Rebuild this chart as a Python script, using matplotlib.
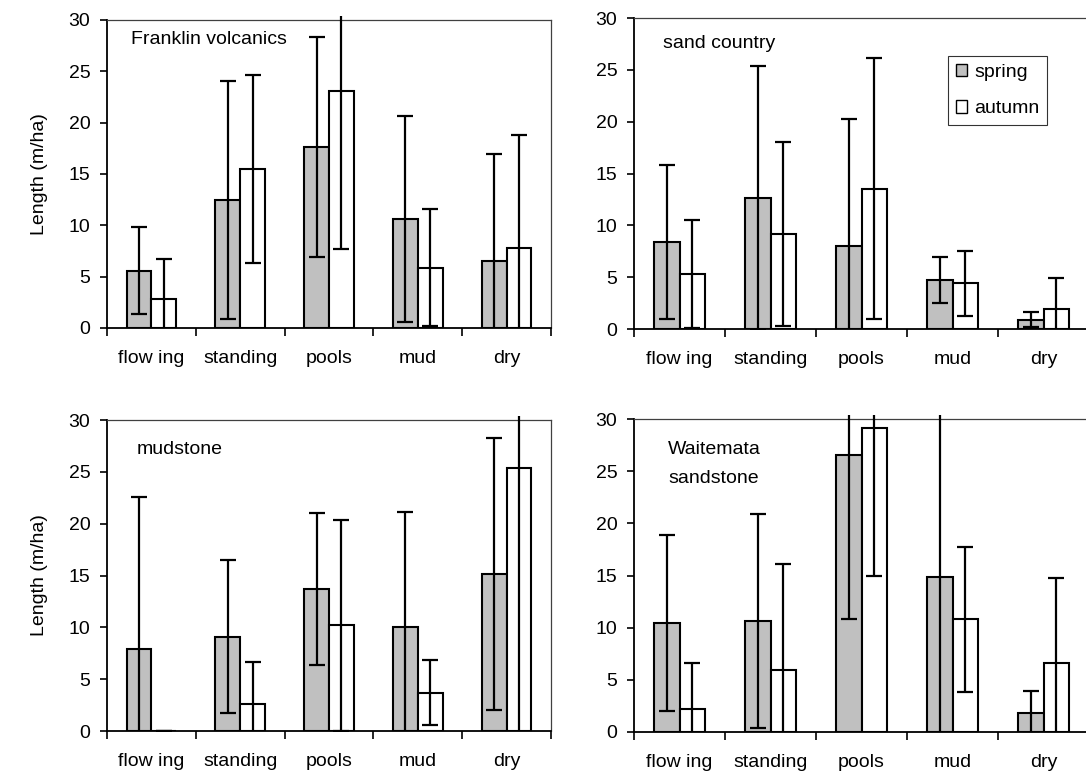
import matplotlib
matplotlib.use("Agg")
import matplotlib.pyplot as plt
from matplotlib.patches import Patch
from matplotlib.transforms import Bbox, TransformedBbox

plt.rcParams['font.family'] = ['Liberation Sans', 'DejaVu Sans']

categories = ["flow ing", "standing", "pools", "mud", "dry"]
series_names = ["spring", "autumn"]

fv_spring = [5.6, 12.5, 17.6, 10.6, 6.5]
fv_spring_err = [4.2, 11.6, 10.7, 10.05, 10.4]
fv_autumn = [2.8, 15.45, 23.1, 5.85, 7.8]
fv_autumn_err = [3.9, 9.15, 15.45, 5.7, 11.0]

sc_spring = [8.4, 12.65, 8.05, 4.75, 0.9]
sc_spring_err = [7.45, 12.7, 12.2, 2.2, 0.7]
sc_autumn = [5.3, 9.15, 13.55, 4.4, 1.95]
sc_autumn_err = [5.2, 8.9, 12.6, 3.1, 3.0]

ms_spring = [7.95, 9.1, 13.7, 10.0, 15.15]
ms_spring_err = [14.6, 7.4, 7.3, 11.1, 13.1]
ms_autumn = [0.0, 2.6, 10.2, 3.7, 25.4]
ms_autumn_err = [0.0, 4.05, 10.2, 3.15, 26.0]

ws_spring = [10.45, 10.65, 26.55, 14.85, 1.85]
ws_spring_err = [8.4, 10.25, 15.75, 17.0, 2.05]
ws_autumn = [2.25, 5.9, 29.1, 10.8, 6.65]
ws_autumn_err = [4.35, 10.2, 14.1, 6.95, 8.15]

panel_titles = ["Franklin volcanics", "sand country", "mudstone", "Waitemata\nsandstone"]
y_ticks = [0, 5, 10, 15, 20, 25, 30]

W, H = 1086, 773
fig = plt.figure(figsize=(W / 100, H / 100), dpi=100)
FS = 14


def rect(x0, y0, x1, y1):
    return [x0 / W, 1 - y1 / H, (x1 - x0) / W, (y1 - y0) / H]


panels = [
    (rect(107, 20, 551, 328), fv_spring, fv_spring_err, fv_autumn, fv_autumn_err, True),
    (rect(634, 18, 1089, 329), sc_spring, sc_spring_err, sc_autumn, sc_autumn_err, False),
    (rect(107, 420, 551, 731), ms_spring, ms_spring_err, ms_autumn, ms_autumn_err, True),
    (rect(634, 419, 1089, 732), ws_spring, ws_spring_err, ws_autumn, ws_autumn_err, False),
]

spring_color = "#C0C0C0"
bw = 0.28
xs = list(range(len(categories)))

axes = []
for pos, sp, spe, au, aue, show_ylabel in panels:
    ax = fig.add_axes(pos)
    axes.append(ax)
    xsp = [x - bw / 2 for x in xs]
    xau = [x + bw / 2 for x in xs]
    ax.bar(xsp, sp, width=bw, color=spring_color, edgecolor="black", linewidth=1.5, zorder=2)
    ax.bar(xau, au, width=bw, color="white", edgecolor="black", linewidth=1.5, zorder=2)
    clipbox = TransformedBbox(Bbox([[0, 0], [1, 1.014]]), ax.transAxes)
    for xx, vv, ee in ((xsp, sp, spe), (xau, au, aue)):
        cont = ax.errorbar(xx, vv, yerr=ee, fmt="none", ecolor="black", elinewidth=1.6,
                           capsize=5.5, capthick=1.6, zorder=3)
        for art in cont.lines[1] + cont.lines[2]:
            art.set_clip_on(True)
            art.set_clip_box(clipbox)
    ax.set_xlim(-0.5, len(categories) - 0.5)
    ax.set_ylim(0, 30)
    ax.set_yticks(y_ticks)
    ax.set_yticklabels([str(t) for t in y_ticks])
    ax.set_xticks([x - 0.5 for x in xs] + [len(categories) - 0.5])
    ax.set_xticklabels([])
    ax.set_xticks(xs, minor=True)
    ax.set_xticklabels(categories, minor=True)
    ax.tick_params(axis="x", which="major", direction="out", length=6, width=1.2, color="black")
    ax.tick_params(axis="x", which="minor", length=0, pad=16, labelsize=FS)
    ax.tick_params(axis="y", direction="out", length=5, width=1.2, pad=7, labelsize=FS)
    for s in ("left", "bottom"):
        ax.spines[s].set_color("black")
        ax.spines[s].set_linewidth(1.3)
    for s in ("top", "right"):
        ax.spines[s].set_color("#404040")
        ax.spines[s].set_linewidth(0.9)
    if show_ylabel:
        ax.set_ylabel("Length (m/ha)", fontsize=FS)
        ax.yaxis.set_label_coords(-0.133, 0.5)

# panel titles
fig.text(131 / W, 1 - 40 / H, panel_titles[0], fontsize=FS, ha="left", va="center")
fig.text(663 / W, 1 - 43 / H, panel_titles[1], fontsize=FS, ha="left", va="center")
fig.text(137 / W, 1 - 449 / H, panel_titles[2], fontsize=FS, ha="left", va="center")
fig.text(714 / W, 1 - 464 / H, panel_titles[3], fontsize=FS, ha="center", va="center",
         multialignment="center", linespacing=1.95)

handles = [Patch(facecolor=spring_color, edgecolor="black", linewidth=1.0),
           Patch(facecolor="white", edgecolor="black", linewidth=1.0)]
leg = fig.legend(handles, series_names, loc="upper left",
                 bbox_to_anchor=(948 / W, 1 - 56 / H), bbox_transform=fig.transFigure,
                 fontsize=FS, frameon=True, fancybox=False, borderaxespad=0,
                 handlelength=0.6, handleheight=0.6, handletextpad=0.35,
                 labelspacing=1.0, borderpad=0.4)
leg.get_frame().set_edgecolor("black")
leg.get_frame().set_linewidth(0.8)

fig.savefig("out.png", dpi=100)
